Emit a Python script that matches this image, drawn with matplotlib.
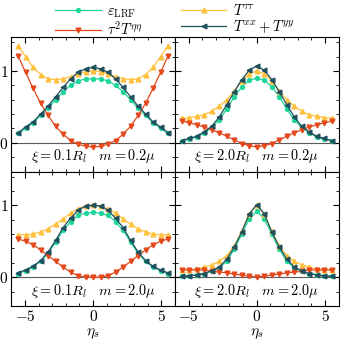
import numpy as np
import matplotlib
matplotlib.use('Agg')
import matplotlib.pyplot as plt
from matplotlib.ticker import MultipleLocator

plt.rcParams['font.family'] = 'serif'
plt.rcParams['font.serif'] = ['cmr10', 'DejaVu Serif']
plt.rcParams['mathtext.fontset'] = 'cm'
plt.rcParams['axes.formatter.use_mathtext'] = True
plt.rcParams['font.size'] = 11

# eta_s grid
eta = np.linspace(-5.5, 5.5, 21)

# xi = 0.1 R_l, m = 0.2 mu
eps_a = [0.13, 0.20, 0.28, 0.38, 0.48, 0.60, 0.71, 0.80, 0.86, 0.89, 0.89, 0.89, 0.86, 0.80, 0.71, 0.60, 0.48, 0.38, 0.28, 0.20, 0.13]
ttt_a = [1.35, 1.20, 1.05, 0.95, 0.89, 0.88, 0.89, 0.92, 0.96, 0.99, 1.00, 0.99, 0.96, 0.92, 0.89, 0.88, 0.89, 0.95, 1.05, 1.20, 1.35]
tee_a = [1.21, 0.98, 0.76, 0.55, 0.38, 0.23, 0.12, 0.03, -0.02, -0.05, -0.06, -0.05, -0.02, 0.03, 0.12, 0.23, 0.38, 0.55, 0.76, 0.98, 1.21]
txy_a = [0.14, 0.22, 0.29, 0.40, 0.51, 0.64, 0.77, 0.89, 0.98, 1.03, 1.05, 1.03, 0.98, 0.89, 0.77, 0.64, 0.51, 0.40, 0.29, 0.22, 0.14]

# xi = 2.0 R_l, m = 0.2 mu
eps_b = [0.03, 0.05, 0.08, 0.14, 0.21, 0.32, 0.47, 0.64, 0.78, 0.87, 0.90, 0.87, 0.78, 0.64, 0.47, 0.32, 0.21, 0.14, 0.08, 0.05, 0.03]
ttt_b = [0.34, 0.35, 0.37, 0.39, 0.44, 0.51, 0.60, 0.72, 0.86, 0.96, 1.00, 0.96, 0.86, 0.72, 0.60, 0.51, 0.44, 0.39, 0.37, 0.35, 0.34]
tee_b = [0.30, 0.28, 0.25, 0.22, 0.18, 0.14, 0.09, 0.04, -0.01, -0.04, -0.06, -0.04, -0.01, 0.04, 0.09, 0.14, 0.18, 0.22, 0.25, 0.28, 0.30]
txy_b = [0.03, 0.06, 0.09, 0.15, 0.23, 0.36, 0.53, 0.71, 0.88, 1.01, 1.07, 1.01, 0.88, 0.71, 0.53, 0.36, 0.23, 0.15, 0.09, 0.06, 0.03]

# xi = 0.1 R_l, m = 2.0 mu
eps_c = [0.05, 0.09, 0.14, 0.22, 0.33, 0.49, 0.65, 0.77, 0.86, 0.89, 0.90, 0.89, 0.86, 0.77, 0.65, 0.49, 0.33, 0.22, 0.14, 0.09, 0.05]
ttt_c = [0.59, 0.59, 0.60, 0.63, 0.67, 0.74, 0.81, 0.89, 0.95, 0.99, 1.00, 0.99, 0.95, 0.89, 0.81, 0.74, 0.67, 0.63, 0.60, 0.59, 0.59]
tee_c = [0.53, 0.50, 0.45, 0.38, 0.30, 0.22, 0.14, 0.07, 0.02, 0.00, 0.00, 0.00, 0.02, 0.07, 0.14, 0.22, 0.30, 0.38, 0.45, 0.50, 0.53]
txy_c = [0.06, 0.10, 0.15, 0.23, 0.35, 0.51, 0.69, 0.82, 0.93, 0.99, 1.00, 0.99, 0.93, 0.82, 0.69, 0.51, 0.35, 0.23, 0.15, 0.10, 0.06]

# xi = 2.0 R_l, m = 2.0 mu
eps_d = [0.01, 0.02, 0.03, 0.05, 0.08, 0.13, 0.22, 0.39, 0.60, 0.81, 0.92, 0.81, 0.60, 0.39, 0.22, 0.13, 0.08, 0.05, 0.03, 0.02, 0.01]
ttt_d = [0.10, 0.10, 0.11, 0.14, 0.17, 0.22, 0.30, 0.43, 0.64, 0.88, 1.00, 0.88, 0.64, 0.43, 0.30, 0.22, 0.17, 0.14, 0.11, 0.10, 0.10]
tee_d = [0.10, 0.10, 0.10, 0.10, 0.08, 0.07, 0.06, 0.04, 0.03, 0.01, 0.00, 0.01, 0.03, 0.04, 0.06, 0.07, 0.08, 0.10, 0.10, 0.10, 0.10]
txy_d = [0.01, 0.02, 0.03, 0.05, 0.09, 0.14, 0.25, 0.42, 0.63, 0.88, 1.01, 0.88, 0.63, 0.42, 0.25, 0.14, 0.09, 0.05, 0.03, 0.02, 0.01]

paneles = [
    (eps_a, ttt_a, tee_a, txy_a, r'$\xi = 0.1R_l\quad m = 0.2\mu$'),
    (eps_b, ttt_b, tee_b, txy_b, r'$\xi = 2.0R_l\quad m = 0.2\mu$'),
    (eps_c, ttt_c, tee_c, txy_c, r'$\xi = 0.1R_l\quad m = 2.0\mu$'),
    (eps_d, ttt_d, tee_d, txy_d, r'$\xi = 2.0R_l\quad m = 2.0\mu$'),
]

c_eps = '#1fd69a'
c_ttt = '#ffc03d'
c_tee = '#e4481c'
c_txy = '#21505e'

fig, axs = plt.subplots(2, 2, figsize=(3.41, 3.41), dpi=100, sharex=True, sharey=True)
fig.subplots_adjust(left=0.033, right=0.993, top=0.891, bottom=0.103, wspace=0, hspace=0)

for ax, (eps, ttt, tee, txy, texto) in zip(axs.flat, paneles):
    ax.axhline(0, color='0.35', lw=0.8, zorder=1)
    l1, = ax.plot(eta, eps, '-o', color=c_eps, lw=0.9, ms=2.8, label=r'$\varepsilon_{\rm LRF}$')
    l2, = ax.plot(eta, ttt, '-^', color=c_ttt, lw=0.9, ms=3.4, label=r'$T^{\tau\tau}$')
    l3, = ax.plot(eta, tee, '-v', color=c_tee, lw=0.9, ms=3.4, label=r'$\tau^2T^{\eta\eta}$')
    l4, = ax.plot(eta, txy, '-<', color=c_txy, lw=0.9, ms=3.4, label=r'$T^{xx}+T^{yy}$')
    ax.text(0, -0.19, texto, ha='center', va='center', fontsize=10.3)
    ax.set_xlim(-6, 6)
    ax.set_ylim(-0.4, 1.47)
    ax.xaxis.set_major_locator(MultipleLocator(5))
    ax.xaxis.set_minor_locator(MultipleLocator(1))
    ax.yaxis.set_major_locator(MultipleLocator(1))
    ax.yaxis.set_minor_locator(MultipleLocator(0.2))
    ax.tick_params(which='both', direction='in', top=True, right=True, labelsize=11, pad=2)
    ax.tick_params(which='major', length=4)
    ax.tick_params(which='minor', length=2)

for ax in axs[1]:
    ax.set_xlabel(r'$\eta_s$', labelpad=2)

fig.legend([l1, l3, l2, l4], [l1.get_label(), l3.get_label(), l2.get_label(), l4.get_label()],
           loc='upper center', bbox_to_anchor=(0.513, 1.02), ncol=2, frameon=False,
           handlelength=3.1, handletextpad=0.45, columnspacing=2.6, fontsize=10.5,
           labelspacing=0.0, borderpad=0.2)

plt.savefig('out.png', dpi=100)
plt.close()
